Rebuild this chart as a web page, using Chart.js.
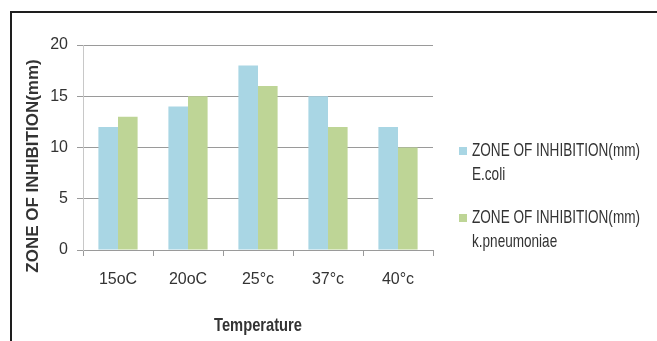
<!DOCTYPE html>
<html>
<head>
<meta charset="utf-8">
<script src="https://cdn.jsdelivr.net/npm/chart.js@4/dist/chart.umd.min.js"></script>
<style>
  html, body { margin: 0; padding: 0; background: #ffffff; }
  #wrap { position: relative; width: 657px; height: 341px; }
</style>
</head>
<body>
<div id="wrap"><canvas id="c" width="657" height="341"></canvas></div>
<script>
// Zone of inhibition measured at each incubation temperature
const categories = ['15oC', '20oC', '25°c', '37°c', '40°c'];
const ecoliValues = [12, 14, 18, 15, 12];
const kpneumoniaeValues = [13, 15, 16, 12, 10];
const yTicks = [0, 5, 10, 15, 20];
const seriesNames = [
  ['ZONE OF INHIBITION(mm)', 'E.coli'],
  ['ZONE OF INHIBITION(mm)', 'k.pneumoniae']
];
const xTitle = 'Temperature';
const yTitle = 'ZONE OF INHIBITION(mm)';

const SANS = '"Liberation Sans", Arial, sans-serif';
const TEXT = '#333333';

// Draws text squeezed horizontally to a given width (condensed look)
function condensedText(ctx, text, x, y, width, align) {
  const w = ctx.measureText(text).width;
  const k = Math.min(1, width / w);
  ctx.save();
  ctx.translate(x, y);
  ctx.scale(k, 1);
  ctx.textAlign = align;
  ctx.fillText(text, 0, 0);
  ctx.restore();
  return k;
}

// Outer frame, axis titles and two-line legend
const decorations = {
  id: 'decorations',
  beforeDraw(chart) {
    const ctx = chart.ctx;
    ctx.save();
    ctx.fillStyle = '#ffffff';
    ctx.fillRect(0, 0, chart.width, chart.height);
    ctx.restore();
  },
  afterDraw(chart) {
    const ctx = chart.ctx;
    const area = chart.chartArea;
    ctx.save();
    ctx.strokeStyle = '#1e1e1e';
    ctx.lineWidth = 2;
    ctx.strokeRect(11, 12, 700, 400);
    ctx.restore();

    // value-axis title
    ctx.save();
    ctx.translate(33, 166);
    ctx.rotate(-Math.PI / 2);
    ctx.font = '600 17px ' + SANS;
    ctx.fillStyle = TEXT;
    ctx.textBaseline = 'middle';
    condensedText(ctx, yTitle, 0, 0, 226, 'center');
    ctx.restore();

    // category-axis title
    ctx.save();
    ctx.font = 'bold 19px ' + SANS;
    ctx.fillStyle = TEXT;
    ctx.textBaseline = 'middle';
    condensedText(ctx, xTitle, (area.left + area.right) / 2, 326, 88, 'center');
    ctx.restore();

    // legend
    ctx.save();
    ctx.font = '19px ' + SANS;
    ctx.textBaseline = 'middle';
    const k = Math.min(1, 168 / ctx.measureText(seriesNames[0][0]).width);
    const tops = [151, 218];
    chart.data.datasets.forEach((ds, i) => {
      const y = tops[i];
      ctx.fillStyle = ds.backgroundColor;
      ctx.fillRect(459, y - 4, 8, 8);
      ctx.fillStyle = TEXT;
      ds.label.forEach((line, j) => {
        ctx.save();
        ctx.translate(472, y + j * 24);
        ctx.scale(k, 1);
        ctx.textAlign = 'left';
        ctx.fillText(line, 0, 0);
        ctx.restore();
      });
    });
    ctx.restore();
  }
};

new Chart(document.getElementById('c'), {
  type: 'bar',
  data: {
    labels: categories,
    datasets: [
      { label: seriesNames[0], data: ecoliValues, backgroundColor: '#A9D6E4' },
      { label: seriesNames[1], data: kpneumoniaeValues, backgroundColor: '#BED596' }
    ]
  },
  options: {
    responsive: false,
    animation: false,
    devicePixelRatio: 1,
    layout: { padding: { top: 45, right: 224, bottom: 0, left: 0 } },
    datasets: {
      bar: { categoryPercentage: 0.56, barPercentage: 1.0 }
    },
    plugins: {
      legend: { display: false },
      tooltip: { enabled: false }
    },
    scales: {
      x: {
        grid: {
          offset: true,
          drawOnChartArea: false,
          drawTicks: true,
          tickLength: 6,
          color: '#9a9a9a'
        },
        border: { color: '#9a9a9a', width: 1 },
        ticks: {
          color: TEXT,
          font: { family: SANS, size: 16 },
          padding: 14
        },
        afterFit(scale) { scale.height = 91; }
      },
      y: {
        min: 0,
        max: 20,
        afterBuildTicks(scale) { scale.ticks = yTicks.map(v => ({ value: v })); },
        grid: {
          color: '#9a9a9a',
          tickLength: 6,
          drawTicks: true
        },
        border: { color: '#c8c8c8', width: 1 },
        ticks: {
          color: TEXT,
          font: { family: SANS, size: 16 },
          padding: 9
        },
        afterFit(scale) { scale.width = 83; }
      }
    }
  },
  plugins: [decorations]
});
</script>
</body>
</html>
